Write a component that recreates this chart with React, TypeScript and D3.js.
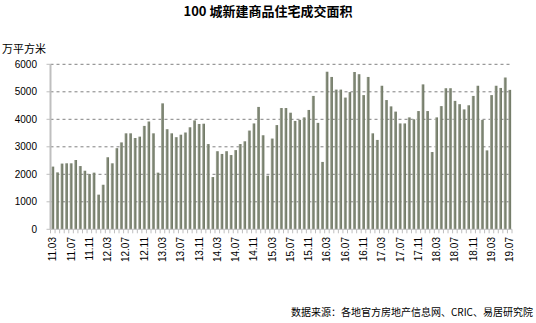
import React from "react";
import * as d3 from "d3";

const months: string[] = (() => {
  const out: string[] = [];
  for (let y = 11; y <= 19; y++) {
    for (let m = 1; m <= 12; m++) {
      if (y === 11 && m < 3) continue;
      if (y === 19 && m > 7) break;
      out.push(`${y}.${m < 10 ? "0" + m : m}`);
    }
  }
  return out;
})();

const values: number[] = [
  2280, 2070, 2390, 2400, 2400, 2520, 2300, 2130, 2010, 2060,
  1260, 1620, 2620, 2400, 2950, 3160, 3490, 3490, 3320, 3370,
  3760, 3920, 3490, 2060, 4580, 3640, 3490, 3350, 3440, 3520,
  3710, 3960, 3830, 3840, 3100, 1900, 2840, 2740, 2840, 2700,
  2880, 3100, 3200, 3590, 3850, 4450, 3420, 1950, 3300, 3790,
  4410, 4410, 4240, 3940, 3980, 4070, 4340, 4850, 3870, 2450,
  5730, 5540, 5080, 5080, 4790, 4990, 5720, 5640, 4880, 5540,
  3490, 3250, 5220, 4700, 4470, 4280, 3850, 3850, 4070, 4000,
  4300, 5270, 4300, 2810, 4070, 4480, 5130, 5130, 4670, 4550,
  4360, 4510, 4850, 5220, 3980, 2870, 4880, 5220, 5140, 5520,
  5070,
];

const yTicks: number[] = [0, 1000, 2000, 3000, 4000, 5000, 6000];
const tickLabels: string[] = months.filter((_, i) => i % 4 === 0);

const title = "100 城新建商品住宅成交面积";
const unit = "万平方米";
const source = "数据来源：各地官方房地产信息网、CRIC、易居研究院";

export default function App() {
  const W = 536;
  const H = 323;
  const left = 50.5;
  const right = 512;
  const top = 64.3;
  const bottom = 229.3;

  const x = d3.scaleBand<string>().domain(months).range([left, right]).paddingInner(0.38).paddingOuter(0.19);
  const y = d3.scaleLinear().domain([0, 6000]).range([bottom, top]);
  const font = "'Liberation Sans', Arial, sans-serif";

  return (
    <svg width={W} height={H} style={{ position: "absolute", left: 0, top: 0, background: "#fff" }}>
      <defs>
        <linearGradient id="barg" x1="0" x2="1" y1="0" y2="0">
          <stop offset="0" stopColor="#b9bdb1" />
          <stop offset="0.35" stopColor="#858c7b" />
          <stop offset="1" stopColor="#6c7561" />
        </linearGradient>
      </defs>
      <text x={268} y={16} textAnchor="middle" fontFamily="'Noto Sans CJK SC', serif" fontWeight="bold" fontSize={13} fill="#000">
        {title}
      </text>
      <text x={2} y={53} fontFamily="'Noto Sans CJK SC', sans-serif" fontSize={11} fill="#000">
        {unit}
      </text>
      {yTicks.map((t) => (
        <g key={t}>
          {t > 0 && (
            <line x1={left} x2={right} y1={y(t)} y2={y(t)} stroke="#808080" strokeWidth={1} strokeDasharray="3,3" />
          )}
          <line x1={left - 4} x2={left} y1={y(t)} y2={y(t)} stroke="#bfbfbf" strokeWidth={1} />
          <text x={37} y={y(t) + 3.5} textAnchor="end" fontFamily={font} fontSize={10} fill="#000">
            {t}
          </text>
        </g>
      ))}
      {months.map((m, i) => (
        <rect key={m} x={x(m)} y={y(values[i])} width={x.bandwidth()} height={bottom - y(values[i])} fill="url(#barg)" />
      ))}
      <line x1={left} x2={left} y1={top} y2={bottom} stroke="#bfbfbf" strokeWidth={2} />
      <line x1={left} x2={right} y1={bottom} y2={bottom} stroke="#bfbfbf" strokeWidth={1} />
      {months.map((m, i) => {
        const xx = (x(m) as number) - (x.step() * x.paddingInner()) / 2;
        return <line key={"t" + i} x1={xx} x2={xx} y1={bottom} y2={bottom + 4} stroke="#bfbfbf" strokeWidth={1} />;
      })}
      <line x1={right} x2={right} y1={bottom} y2={bottom + 4} stroke="#bfbfbf" strokeWidth={1} />
      {tickLabels.map((t) => {
        const cx = (x(t) as number) + x.bandwidth() / 2;
        return (
          <text
            key={"l" + t}
            transform={`translate(${cx + 3.5},${237}) rotate(-90)`}
            textAnchor="end"
            fontFamily={font}
            fontSize={10}
            fill="#000"
          >
            {t}
          </text>
        );
      })}
      <text x={533} y={316} textAnchor="end" fontFamily="'Noto Sans CJK SC', sans-serif" fontSize={10} fill="#000">
        {source}
      </text>
    </svg>
  );
}
